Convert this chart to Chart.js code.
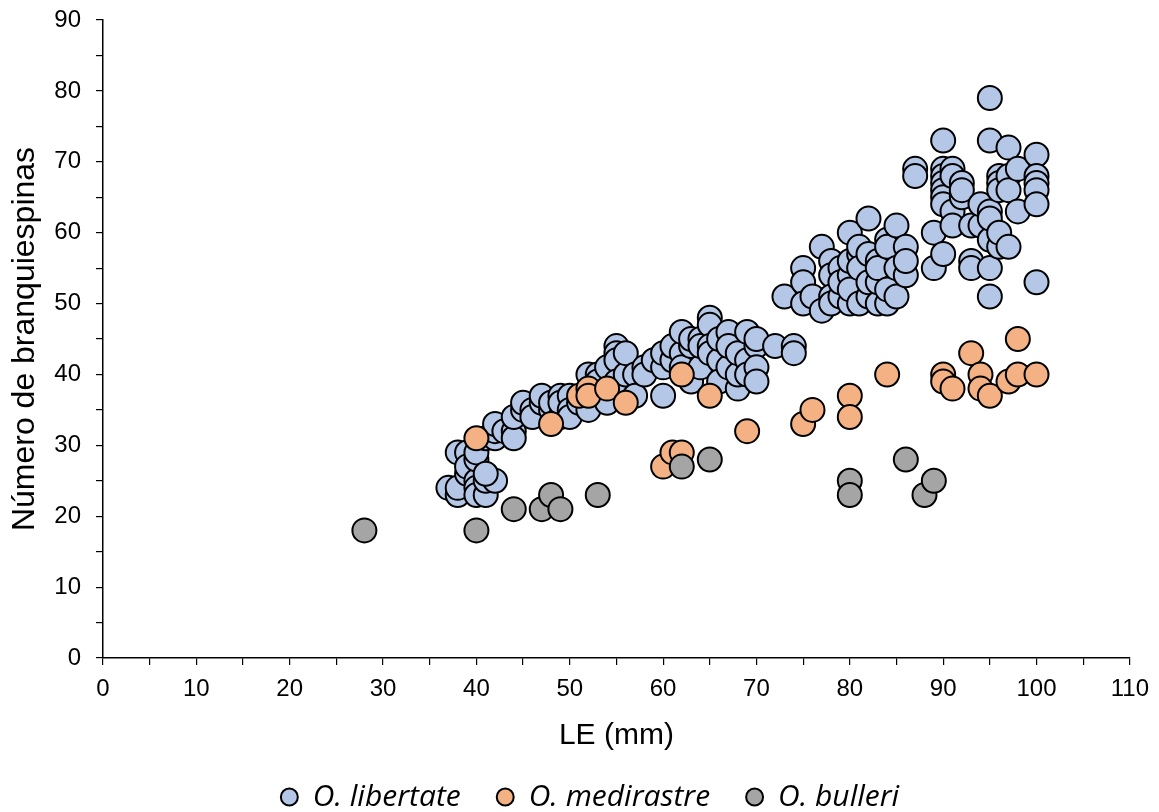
<!DOCTYPE html>
<html>
<head>
<meta charset="utf-8">
<script src="https://cdn.jsdelivr.net/npm/chart.js@4.4.0/dist/chart.umd.min.js"></script>
<style>
  html, body { margin: 0; padding: 0; background: #fff; }
  #wrap { width: 1159px; height: 812px; }
</style>
</head>
<body>
<div id="wrap"><canvas id="scatterChart" width="1159" height="812"></canvas></div>
<script>
const seriesNames = ["O. libertate", "O. medirastre", "O. bulleri"];

const libertateLE = [
  37, 38, 38, 38, 39, 39, 39, 40, 40, 40, 40, 40, 41, 41, 42, 41, 41, 42, 42, 42, 43, 44, 44, 44, 45, 45, 46, 46, 47, 47, 48, 48, 49, 49, 49, 50, 50, 50,
  51, 52, 52, 53, 53, 53, 54, 54, 54, 55, 55, 55, 55, 56, 56, 57, 57, 58, 58, 59, 60, 60, 60, 61, 61, 62, 62, 62, 63, 63, 63, 64, 64, 64, 65, 65, 65, 65,
  66, 66, 66, 67, 67, 67, 68, 68, 68, 69, 69, 69, 70, 70, 70, 70, 72, 74, 74,
  73, 75, 75, 75, 76, 77, 77, 78, 78, 78, 78, 79, 79, 79, 80, 80, 80, 80, 80, 81, 81, 81, 81, 82, 82, 82, 82, 83, 83, 83, 83, 84, 84, 84, 84, 85, 85, 85,
  86, 86, 86,
  87, 87, 89, 89, 90, 90, 90, 90, 90, 90, 90, 90, 91, 91, 91, 91, 92, 92, 92, 93, 93, 93, 94, 94, 95, 95, 95, 95, 95, 95, 95, 96, 96, 96, 96, 96, 97, 97,
  97, 97, 98, 98, 100, 100, 100, 100, 100, 100
];
const libertateBranq = [
  24, 23, 24, 29, 29, 26, 27, 25, 24, 23, 28, 29, 23, 25, 25, 26, 31, 31, 32, 33, 32, 32, 31, 34, 35, 36, 35, 34, 36, 37, 35, 36, 34, 37, 36, 37, 35, 34,
  36, 35, 40, 40, 38, 39, 41, 37, 36, 44, 43, 42, 39, 40, 43, 40, 37, 41, 40, 42, 41, 37, 43, 42, 44, 43, 46, 41, 44, 45, 39, 45, 41, 44, 48, 47, 44, 43,
  42, 39, 45, 46, 41, 44, 38, 40, 43, 46, 42, 40, 44, 41, 39, 45, 44, 44, 43,
  51, 55, 53, 50, 51, 58, 49, 56, 54, 51, 50, 55, 51, 53, 54, 60, 50, 52, 56, 57, 58, 50, 55, 62, 51, 53, 57, 56, 50, 53, 55, 59, 50, 58, 52, 55, 61, 51,
  54, 58, 56,
  69, 68, 60, 55, 73, 69, 68, 67, 66, 65, 64, 57, 69, 68, 63, 61, 67, 65, 66, 61, 56, 55, 61, 64, 79, 73, 63, 59, 55, 51, 62, 68, 67, 66, 58, 60, 72, 68,
  58, 66, 63, 69, 71, 68, 67, 66, 64, 53
];

const medirastreLE = [40, 48, 51, 52, 52, 54, 56, 60, 61, 62, 62, 65, 69, 75, 76, 80, 80, 84, 90, 90, 91, 93, 94, 94, 95, 97, 98, 98, 100];
const medirastreBranq = [31, 33, 37, 38, 37, 38, 36, 27, 29, 29, 40, 37, 32, 33, 35, 37, 34, 40, 40, 39, 38, 43, 40, 38, 37, 39, 45, 40, 40];

const bulleriLE = [28, 40, 44, 47, 48, 49, 53, 62, 65, 80, 80, 86, 88, 89];
const bulleriBranq = [18, 18, 21, 21, 23, 21, 23, 27, 28, 25, 23, 28, 23, 25];

const toPoints = (xs, ys) => xs.map((x, i) => ({ x: x, y: ys[i] }));

Chart.defaults.font.family = "Arial, 'Liberation Sans', sans-serif";
Chart.defaults.color = "#000";

const ctx = document.getElementById("scatterChart").getContext("2d");

function makeSet(label, xs, ys, fill, order) {
  return {
    label: label,
    data: toPoints(xs, ys),
    backgroundColor: fill,
    borderColor: "#000",
    borderWidth: 2,
    pointRadius: 12,
    pointHoverRadius: 12,
    order: order,
  };
}

// nudge the legend a little to the right, like in the original
const legendShift = {
  id: "legendShift",
  afterLayout(chart) {
    if (chart.legend) {
      chart.legend.left += 25;
      chart.legend.right += 25;
    }
  },
};

new Chart(ctx, {
  type: "scatter",
  data: {
    datasets: [
      makeSet(seriesNames[0], libertateLE, libertateBranq, "#B4C7E7", 3),
      makeSet(seriesNames[1], medirastreLE, medirastreBranq, "#F4B183", 2),
      makeSet(seriesNames[2], bulleriLE, bulleriBranq, "#A5A5A5", 1),
    ],
  },
  plugins: [legendShift],
  options: {
    responsive: false,
    animation: false,
    events: [],
    layout: {
      padding: { left: 0, right: 29, top: 20, bottom: -10 },
    },
    plugins: {
      tooltip: { enabled: false },
      legend: {
        position: "bottom",
        labels: {
          usePointStyle: true,
          pointStyle: "circle",
          boxWidth: 17,
          boxHeight: 12,
          padding: 36,
          color: "#000",
          font: { family: "'Open Sans', Lato, sans-serif", size: 30, style: "italic" },
          sort: (a, b) => a.datasetIndex - b.datasetIndex,
        },
      },
    },
    scales: {
      x: {
        type: "linear",
        min: 0,
        max: 110,
        afterFit: (scale) => { scale.height = 88; },
        border: { display: true, color: "#000", width: 1.5 },
        grid: { drawOnChartArea: false, color: "#000", tickLength: 7, lineWidth: 1.2 },
        ticks: {
          stepSize: 5,
          autoSkip: false,
          maxRotation: 0,
          padding: 10,
          font: { size: 24 },
          callback: (v) => (v % 10 === 0 ? v : ""),
        },
        title: {
          display: true,
          text: "LE (mm)",
          font: { size: 30 },
          padding: { top: 0, bottom: -8 },
        },
      },
      y: {
        type: "linear",
        min: 0,
        max: 90,
        afterFit: (scale) => {
          scale.width = 103;
          scale.paddingTop = 10;
          scale.paddingBottom = 10;
        },
        border: { display: true, color: "#000", width: 1.5 },
        grid: { drawOnChartArea: false, color: "#000", tickLength: 7, lineWidth: 1.2 },
        ticks: {
          stepSize: 5,
          autoSkip: false,
          padding: 15,
          font: { size: 24 },
          callback: (v) => (v % 10 === 0 ? v : ""),
        },
        title: {
          display: true,
          text: "Número de branquiespinas",
          font: { size: 32 },
          padding: { top: 6, bottom: 0 },
        },
      },
    },
  },
});
</script>
</body>
</html>
